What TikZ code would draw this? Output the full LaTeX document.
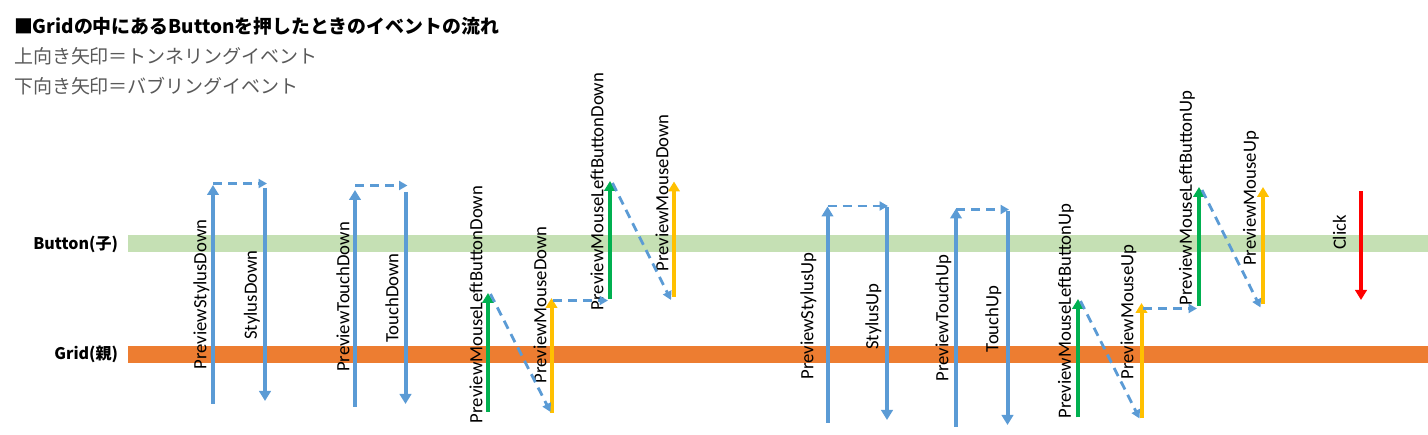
\documentclass[tikz,border=0pt]{standalone}
\usepackage{fontspec}
\setmainfont{Carlito}
\newfontfamily\jpfont{Noto Sans CJK JP}
\usetikzlibrary{arrows.meta}
\definecolor{evblue}{HTML}{5B9BD5}
\definecolor{evgreen}{HTML}{00B050}
\definecolor{evyellow}{HTML}{FFC000}
\definecolor{evred}{HTML}{FF0000}
\definecolor{bandgreen}{HTML}{C5E0B4}
\definecolor{bandorange}{HTML}{ED7D31}
\definecolor{subgray}{HTML}{595959}
\tikzset{
  every node/.style={inner sep=0pt, outer sep=0pt},
  lbl/.style={rotate=90, font=\fontsize{18.7}{20}\selectfont, text=black},
  rowlbl/.style={anchor=east, font=\jpfont\bfseries\fontsize{16}{18}\selectfont, text=black},
  ev/.style={line width=4pt, -{Triangle[width=11.5pt,length=10pt]}},
  flow/.style={draw=evblue, line width=2.8pt, dash pattern=on 9pt off 6pt, -{Triangle[width=9pt,length=8.5pt]}},
}
\begin{document}
\begin{tikzpicture}[x=1pt,y=-1pt]
\useasboundingbox (0,0) rectangle (1428,435);
% title lines
\node (title) [anchor=west, font=\jpfont\bfseries\fontsize{18.9}{20}\selectfont] at (14,26) {■Gridの中にあるButtonを押したときのイベントの流れ};
\node (tun) [anchor=west, text=subgray, font=\jpfont\fontsize{19}{20}\selectfont] at (14,56.5) {上向き矢印＝トンネリングイベント};
\node (bub) [anchor=west, text=subgray, font=\jpfont\fontsize{19}{20}\selectfont] at (14,86.5) {下向き矢印＝バブリングイベント};
% bands
\fill[bandgreen] (128,235.5) rectangle (1428,252.5);
\fill[bandorange] (128,346) rectangle (1428,363);
\node (btn) [rowlbl] at (118,244.5) {Button(子)};
\node (grd) [rowlbl] at (118,354) {Grid(親)};
% coordinates
\coordinate (a1s) at (213,404); \coordinate (a1e) at (213,185);
\coordinate (a2s) at (265,188); \coordinate (a2e) at (265,401);
\coordinate (a3s) at (355,407); \coordinate (a3e) at (355,190);
\coordinate (a4s) at (405.5,192); \coordinate (a4e) at (405.5,404);
\coordinate (a5s) at (488,412); \coordinate (a5e) at (488,293);
\coordinate (a6s) at (551.5,413); \coordinate (a6e) at (551.5,298);
\coordinate (a7s) at (610,299); \coordinate (a7e) at (610,181);
\coordinate (a8s) at (674,297); \coordinate (a8e) at (674,181.5);
\coordinate (b1s) at (827.5,423); \coordinate (b1e) at (827.5,206.5);
\coordinate (b2s) at (887,207); \coordinate (b2e) at (887,420);
\coordinate (b3s) at (956,427); \coordinate (b3e) at (956,208.5);
\coordinate (b4s) at (1007.5,211); \coordinate (b4e) at (1007.5,425);
\coordinate (b5s) at (1078,417.5); \coordinate (b5e) at (1078,299);
\coordinate (b6s) at (1141.5,418.5); \coordinate (b6e) at (1141.5,303);
\coordinate (b7s) at (1199,306); \coordinate (b7e) at (1199,187);
\coordinate (b8s) at (1263,304.5); \coordinate (b8e) at (1263,187);
\coordinate (cks) at (1361,191.5); \coordinate (cke) at (1361,300);
% flow (dashed) connectors
\coordinate (f1s) at (213,183.5); \coordinate (f1e) at (267,183.5);
\coordinate (f2s) at (355,185.5); \coordinate (f2e) at (407.5,185.5);
\coordinate (f3s) at (490.5,294); \coordinate (f3e) at (550.5,412);
\coordinate (f4s) at (553,300.5); \coordinate (f4e) at (608,300.5);
\coordinate (f5s) at (612.5,183); \coordinate (f5e) at (671,300);
\coordinate (f6s) at (827.5,206); \coordinate (f6e) at (888,206);
\coordinate (f7s) at (956,209.5); \coordinate (f7e) at (1009,209.5);
\coordinate (f8s) at (1080.5,301); \coordinate (f8e) at (1139.5,418.5);
\coordinate (f9s) at (1143,308.5); \coordinate (f9e) at (1197,308.5);
\coordinate (f10s) at (1202,190); \coordinate (f10e) at (1260.5,307.5);
% labels
\node (l1) [lbl] at (201.5,294.5) {PreviewStylusDown};
\node (l2) [lbl] at (252,295) {StylusDown};
\node (l3) [lbl] at (343,297) {PreviewTouchDown};
\node (l4) [lbl] at (392,298) {TouchDown};
\node (l5) [lbl] at (476,304.5) {PreviewMouseLeftButtonDown};
\node (l6) [lbl] at (540,305) {PreviewMouseDown};
\node (l7) [lbl] at (597,191.5) {PreviewMouseLeftButtonDown};
\node (l8) [lbl] at (662,193) {PreviewMouseDown};
\node (m1) [lbl] at (808.5,316) {PreviewStylusUp};
\node (m2) [lbl] at (873.5,316.5) {StylusUp};
\node (m3) [lbl] at (943.5,318) {PreviewTouchUp};
\node (m4) [lbl] at (993.5,319) {TouchUp};
\node (m5) [lbl] at (1066,311) {PreviewMouseLeftButtonUp};
\node (m6) [lbl] at (1128.5,312) {PreviewMouseUp};
\node (m7) [lbl] at (1187,198) {PreviewMouseLeftButtonUp};
\node (m8) [lbl] at (1251,198.5) {PreviewMouseUp};
\node (ck) [lbl] at (1339.5,232.5) {Click};
% event arrows
\draw[ev, evblue] (a1s) -- (a1e);
\draw[ev, evblue] (a2s) -- (a2e);
\draw[ev, evblue] (a3s) -- (a3e);
\draw[ev, evblue] (a4s) -- (a4e);
\draw[ev, evgreen] (a5s) -- (a5e);
\draw[ev, evyellow] (a6s) -- (a6e);
\draw[ev, evgreen] (a7s) -- (a7e);
\draw[ev, evyellow] (a8s) -- (a8e);
\draw[ev, evblue] (b1s) -- (b1e);
\draw[ev, evblue] (b2s) -- (b2e);
\draw[ev, evblue] (b3s) -- (b3e);
\draw[ev, evblue] (b4s) -- (b4e);
\draw[ev, evgreen] (b5s) -- (b5e);
\draw[ev, evyellow] (b6s) -- (b6e);
\draw[ev, evgreen] (b7s) -- (b7e);
\draw[ev, evyellow] (b8s) -- (b8e);
\draw[ev, evred] (cks) -- (cke);
% flows
\foreach \f in {f1,f2,f3,f4,f5,f6,f7,f8,f9,f10} {
  \draw[flow] (\f s) -- (\f e);
}
\end{tikzpicture}
\end{document}
